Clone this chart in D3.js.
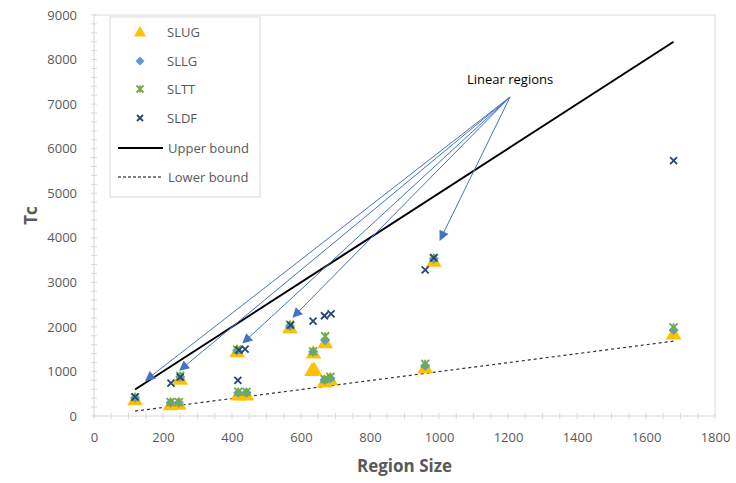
<!DOCTYPE html>
<html><head><meta charset="utf-8">
<script src="https://cdn.jsdelivr.net/npm/d3@7"></script>
<style>body{margin:0;background:#fff}svg{display:block;font-family:"Open Sans",Lato,sans-serif}</style>
</head><body><svg id="c" width="736" height="483"></svg>
<script>
const slugX=[119,222,246,250,415,418,442,568,632,638,636,670,668,685,960,985,1680];
const slugY=[370,260,270,830,1450,480,480,1990,1030,1050,1420,1650,770,820,1090,3480,1850];
const sllgX=[119,222,246,250,415,418,442,568,635,670,668,685,960,985,1680];
const sllgY=[410,300,300,880,1470,520,520,2020,1440,1700,810,850,1130,3530,1930];
const slttX=[119,222,246,250,415,418,442,568,635,670,668,685,960,985,1680];
const slttY=[420,310,310,900,1490,540,540,2050,1450,1790,830,880,1170,3550,1990];
const sldfX=[119,223,250,417,420,438,570,635,668,687,960,985,1680];
const sldfY=[430,740,870,800,1480,1500,2040,2130,2250,2290,3280,3550,5730];
const upperX=[119,1680], upperY=[595,8400];
const lowerX=[119,1680], lowerY=[110,1680];
const arrowFrom=[1206,7160];
const arrowToX=[150,249,432,577,1003];
const arrowToY=[800,1030,1640,2220,3950];
const xTicks=[0,200,400,600,800,1000,1200,1400,1600,1800];
const yTicks=[0,1000,2000,3000,4000,5000,6000,7000,8000,9000];
const legendNames=["SLUG","SLLG","SLTT","SLDF","Upper bound","Lower bound"];

const svg=d3.select("#c");
const L=94,R=715,T=15,B=416;
const x=d3.scaleLinear().domain([0,1800]).range([L,R]);
const y=d3.scaleLinear().domain([0,9000]).range([B,T]);
const grey="#595959", axisC="#d9d9d9";
const FF="'Open Sans',Lato,sans-serif";

svg.append("rect").attr("x",L).attr("y",T).attr("width",R-L).attr("height",B-T)
  .attr("fill","none").attr("stroke",axisC).attr("stroke-width",1);
const g=svg.append("g").attr("stroke",axisC).attr("stroke-width",1);
d3.range(0,1801,50).forEach(v=>{g.append("line").attr("x1",x(v)).attr("x2",x(v)).attr("y1",B-3).attr("y2",B+3);});
d3.range(0,9001,200).forEach(v=>{g.append("line").attr("y1",y(v)).attr("y2",y(v)).attr("x1",L-3).attr("x2",L+3);});
const xa=d3.axisBottom(x).tickValues(xTicks).tickFormat(d3.format("d")).tickSize(0).tickPadding(17);
const xg=svg.append("g").attr("transform",`translate(0,${B})`).call(xa);
xg.select(".domain").remove();
xg.selectAll("text").attr("fill",grey).style("font-size","13px").style("font-family",FF);
const ya=d3.axisLeft(y).tickValues(yTicks).tickFormat(d3.format("d")).tickSize(0).tickPadding(17);
const yg=svg.append("g").attr("transform",`translate(${L},0)`).call(ya);
yg.select(".domain").remove();
yg.selectAll("text").attr("fill",grey).style("font-size","13px").style("font-family",FF);

svg.append("text").attr("x",(L+R)/2).attr("y",472).attr("text-anchor","middle")
  .attr("fill",grey).style("font-size","17px").style("font-weight","bold").style("font-family",FF).text("Region Size");
svg.append("text").attr("transform",`translate(37,${(T+B)/2}) rotate(-90)`).attr("text-anchor","middle")
  .attr("fill",grey).style("font-size","17px").style("font-weight","bold").style("font-family",FF).text("Tc");

const line=d3.line().x(d=>x(d[0])).y(d=>y(d[1]));
svg.append("path").attr("d",line(d3.zip(upperX,upperY))).attr("stroke","#000").attr("stroke-width",2).attr("fill","none");
svg.append("path").attr("d",line(d3.zip(lowerX,lowerY))).attr("stroke","#333").attr("stroke-width",1.2).attr("stroke-dasharray","3,3").attr("fill","none");

const markers={
  tri:(s)=>`M0,${-s*0.6}L${s*0.6},${s*0.45}L${-s*0.6},${s*0.45}Z`,
  dia:(s)=>`M0,${-s/2}L${s/2},0L0,${s/2}L${-s/2},0Z`,
  star:(s)=>`M${-s/2},${-s/2}L${s/2},${s/2}M${s/2},${-s/2}L${-s/2},${s/2}M0,${-s/2}L0,${s/2}`,
  x:(s)=>`M${-s/2},${-s/2}L${s/2},${s/2}M${s/2},${-s/2}L${-s/2},${s/2}`
};
const series=[
  {xs:slugX,ys:slugY,m:"tri",s:13,fill:"#FFC000",stroke:"none"},
  {xs:sllgX,ys:sllgY,m:"dia",s:10,fill:"#5B9BD5",stroke:"none"},
  {xs:slttX,ys:slttY,m:"star",s:8,fill:"none",stroke:"#70AD47"},
  {xs:sldfX,ys:sldfY,m:"x",s:7,fill:"none",stroke:"#264478"}
];
series.forEach(se=>{
  svg.append("g").selectAll("path").data(d3.zip(se.xs,se.ys)).join("path")
    .attr("transform",d=>`translate(${x(d[0])},${y(d[1])})`)
    .attr("d",markers[se.m](se.s)).attr("fill",se.fill).attr("stroke",se.stroke).attr("stroke-width",1.8);
});

const defs=svg.append("defs");
defs.append("marker").attr("id","ah").attr("viewBox","0 0 10 10").attr("refX",9).attr("refY",5)
  .attr("markerWidth",13).attr("markerHeight",10).attr("markerUnits","userSpaceOnUse").attr("orient","auto")
  .append("path").attr("d","M0,0L10,5L0,10Z").attr("fill","#4472C4");
arrowToX.forEach((tx,i)=>{
  svg.append("line").attr("x1",x(arrowFrom[0])).attr("y1",y(arrowFrom[1]))
    .attr("x2",x(tx)).attr("y2",y(arrowToY[i])).attr("stroke","#4472C4").attr("stroke-width",1)
    .attr("marker-end","url(#ah)");
});
svg.append("text").attr("x",x(arrowFrom[0])).attr("y",y(arrowFrom[1])-13).attr("text-anchor","middle")
  .attr("fill","#000").style("font-size","13px").style("font-family",FF).text("Linear regions");

const lg=svg.append("g");
lg.append("rect").attr("x",110).attr("y",17).attr("width",150).attr("height",180).attr("fill","#fff").attr("stroke",axisC);
const rowY=[32,61,89,118,148,177];
legendNames.forEach((n,i)=>{
  if(i<4){
    const se=series[i];
    lg.append("path").attr("transform",`translate(140,${rowY[i]})`).attr("d",markers[se.m](i===0?10:se.s-1))
      .attr("fill",se.fill).attr("stroke",se.stroke).attr("stroke-width",1.8);
    lg.append("text").attr("x",167).attr("y",rowY[i]+5).attr("fill",grey).style("font-size","13px").style("font-family",FF).text(n);
  } else {
    lg.append("line").attr("x1",118).attr("x2",163).attr("y1",rowY[i]).attr("y2",rowY[i])
      .attr("stroke","#000").attr("stroke-width",i===4?2:1).attr("stroke-dasharray",i===4?null:"3,2");
    lg.append("text").attr("x",168).attr("y",rowY[i]+5).attr("fill",grey).style("font-size","13px").style("font-family",FF).text(n);
  }
});
</script></body></html>
